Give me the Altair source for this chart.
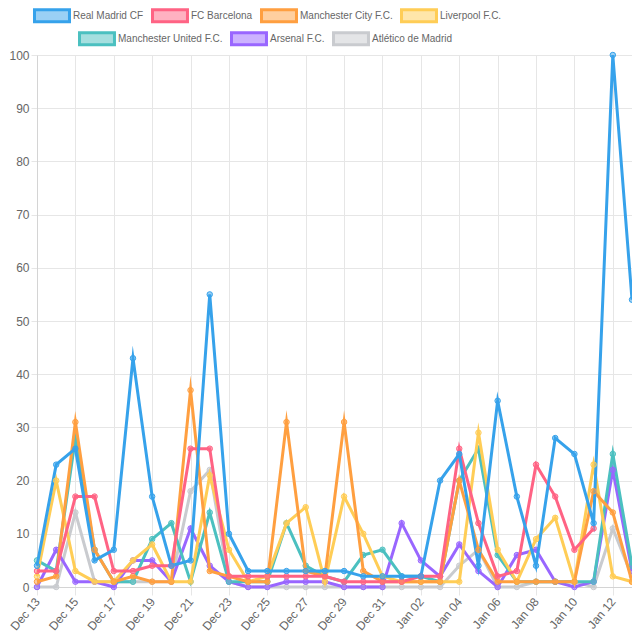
import altair as alt
import pandas as pd

dates = ["Dec 13", "Dec 14", "Dec 15", "Dec 16", "Dec 17", "Dec 18", "Dec 19", "Dec 20",
         "Dec 21", "Dec 22", "Dec 23", "Dec 24", "Dec 25", "Dec 26", "Dec 27", "Dec 28",
         "Dec 29", "Dec 30", "Dec 31", "Jan 01", "Jan 02", "Jan 03", "Jan 04", "Jan 05",
         "Jan 06", "Jan 07", "Jan 08", "Jan 09", "Jan 10", "Jan 11", "Jan 12", "Jan 13"]

teams = ["Real Madrid CF", "FC Barcelona", "Manchester City F.C.", "Liverpool F.C.",
         "Manchester United F.C.", "Arsenal F.C.", "Atlético de Madrid"]

real_madrid = [4, 23, 26, 5, 7, 43, 17, 4, 5, 55, 10, 3, 3, 3, 3, 3, 3, 2, 2,
               2, 2, 20, 25, 4, 35, 17, 4, 28, 25, 12, 100, 54]
barcelona = [3, 3, 17, 17, 3, 3, 4, 4, 26, 26, 2, 2, 2, 2, 2, 2, 1, 1, 1,
             1, 2, 2, 26, 12, 2, 3, 23, 17, 7, 11, None, None]
man_city = [1, 2, 31, 7, 1, 2, 1, 1, 37, 3, 2, 1, 1, 31, 3, 2, 31, 3, 1,
            1, 1, 1, 20, 7, 1, 1, 1, 1, 1, 18, 14, 1]
liverpool = [2, 20, 3, 1, 1, 5, 8, 1, 1, 21, 7, 1, 2, 12, 15, 1, 17, 10, 2,
             1, 1, 1, 1, 29, 7, 1, 9, 13, 1, 23, 2, 1]
man_united = [5, 3, 28, 7, 1, 1, 9, 12, 1, 14, 1, 1, 1, 12, 4, 2, 1, 6, 7,
              2, 2, 1, 20, 26, 6, 1, 1, 1, 1, 1, 25, 4]
arsenal = [0, 7, 1, 1, 0, 5, 5, 1, 11, 4, 1, 0, 0, 1, 1, 1, 0, 0, 0,
           12, 5, 2, 8, 3, 0, 6, 7, 1, 0, 1, 22, 3]
atletico = [0, 0, 14, 1, 1, 1, 1, 1, 18, 22, 1, 0, 0, 0, 0, 0, 0, 0, 0,
            0, 0, 0, 4, 7, 0, 0, 1, 1, 1, 0, 11, 2]

series = [real_madrid, barcelona, man_city, liverpool, man_united, arsenal, atletico]

stroke_colors = ["#36a2eb", "#ff6384", "#ff9f40", "#ffcd56", "#4bc0c0", "#9966ff", "#c9cbcf"]
fill_colors = ["rgba(54,162,235,0.5)", "rgba(255,99,132,0.5)", "rgba(255,159,64,0.5)",
               "rgba(255,205,86,0.5)", "rgba(75,192,192,0.5)", "rgba(153,102,255,0.5)",
               "rgba(201,203,207,0.5)"]

rows = []
for team, vals in reversed(list(zip(teams, series))):
    for d, v in zip(dates, vals):
        if v is not None:
            rows.append({"date": d, "team": team, "value": v})
df = pd.DataFrame(rows)

FONT = "Liberation Sans"
GRID = "#e6e6e6"
BOX = "M-1,-1H4.83V1H-1Z"

x_enc = alt.X("date:O", sort=dates,
              scale=alt.Scale(domain=dates, padding=0),
              axis=alt.Axis(values=dates[::2], title=None, labelAngle=-50,
                            labelAlign="right", labelBaseline="middle",
                            labelPadding=4, tickSize=8, tickColor=GRID,
                            grid=True, gridColor=GRID, domainColor="#d4d4d4",
                            labelColor="#666", labelFont=FONT, labelFontSize=12))
y_enc = alt.Y("value:Q", scale=alt.Scale(domain=[0, 100], nice=False),
              axis=alt.Axis(values=list(range(0, 101, 10)), title=None,
                            tickSize=6, tickColor=GRID, labelPadding=2,
                            grid=True, gridColor=GRID, domainColor="#d4d4d4",
                            labelColor="#666", labelFont=FONT, labelFontSize=12))


def group(members, lx, ly):
    idx = [teams.index(m) for m in members]
    sub = df[df["team"].isin(members)]
    legend = alt.Legend(title=None, orient="none", legendX=lx, legendY=ly,
                        direction="horizontal", symbolType=BOX, symbolSize=144,
                        symbolStrokeWidth=3, labelOffset=25, columnPadding=2,
                        labelFont=FONT, labelFontSize=10, labelColor="#666")
    stroke = alt.Stroke("team:N", sort=members,
                        scale=alt.Scale(domain=members, range=[stroke_colors[i] for i in idx]),
                        legend=legend)
    fill = alt.Fill("team:N", sort=members,
                    scale=alt.Scale(domain=members, range=[fill_colors[i] for i in idx]),
                    legend=legend)
    line = alt.Chart(sub).mark_line(strokeWidth=3, strokeMiterLimit=10).encode(
        x=x_enc, y=y_enc, stroke=stroke)
    pts = alt.Chart(sub).mark_point(filled=True, size=30, strokeWidth=1, opacity=1).encode(
        x=x_enc, y=y_enc, stroke=stroke, fill=fill)
    return alt.layer(line, pts)


chart = alt.layer(
    group(teams[4:], 41, -24),
    group(teams[:4], -4, -47),
).resolve_scale(stroke="independent", fill="independent").properties(
    width=595, height=532,
    autosize=alt.AutoSizeParams(type="none"),
    padding={"left": 29, "top": 47, "right": 0, "bottom": 45},
).configure_view(stroke=None)

chart.save("out.html", embed_options={"renderer": "svg", "actions": False})
